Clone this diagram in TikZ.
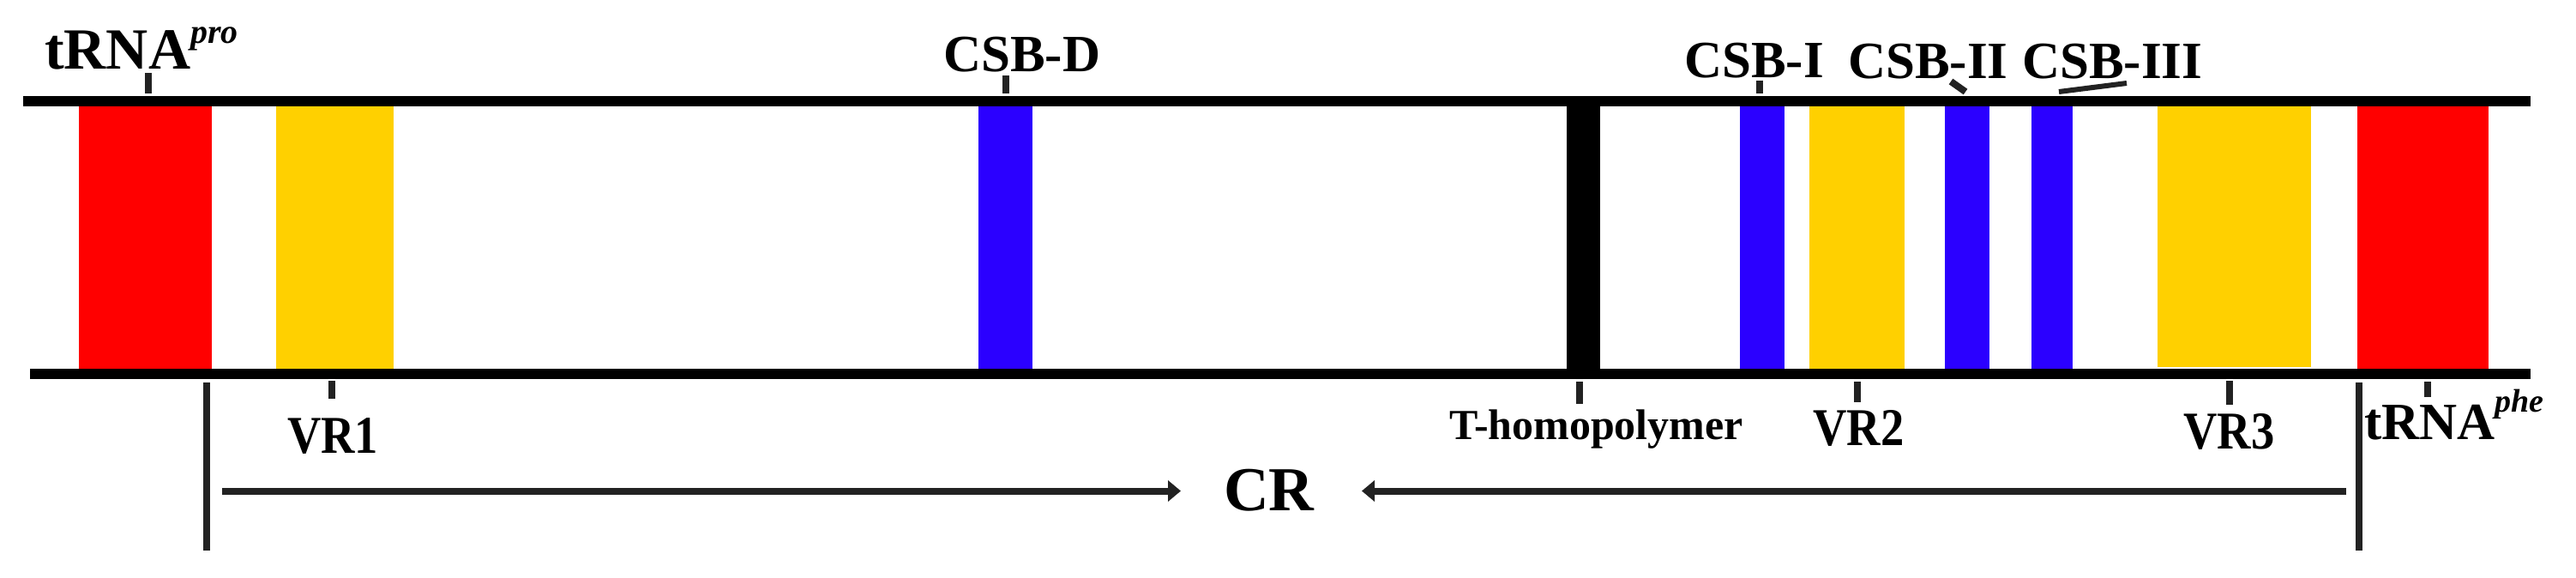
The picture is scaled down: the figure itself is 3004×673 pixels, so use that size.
\documentclass[tikz,border=0pt]{standalone}
\usepackage{fontspec}
\setmainfont{Liberation Serif}
\usetikzlibrary{arrows.meta}
\definecolor{cred}{RGB}{255,0,0}
\definecolor{cyel}{RGB}{255,208,0}
\definecolor{cblue}{RGB}{43,0,255}
\definecolor{cgray}{RGB}{34,34,34}
\newcommand{\labfont}[1]{\bfseries\fontsize{#1}{#1}\selectfont}
\begin{document}
\begin{tikzpicture}[x=1pt,y=-1pt,
  lab/.style={inner sep=0pt, anchor=base west, font=\labfont{61}},
  tickline/.style={line width=8pt, draw=cgray},
  strand/.style={line width=12pt, draw=black},
  bar/.style={line width=8pt, draw=cgray},
  arr/.style={line width=8pt, draw=cgray, -{Triangle[length=15pt,width=24pt]}},
  redbox/.style={fill=cred},
  yelbox/.style={fill=cyel},
  bluebox/.style={fill=cblue},
  blkbox/.style={fill=black}]
\useasboundingbox[fill=white] (0,0) rectangle (3004,673);

% regions
\fill[redbox]  (92,124) rectangle (247,430);
\fill[yelbox]  (321.5,124) rectangle (459,430);
\fill[bluebox] (1140.5,124) rectangle (1204,430);
\fill[blkbox]  (1827,124) rectangle (1866,430);
\fill[bluebox] (2029,124) rectangle (2081,432);
\fill[yelbox]  (2110,124) rectangle (2221,430);
\fill[bluebox] (2268,124) rectangle (2320,430);
\fill[bluebox] (2369,124) rectangle (2417,430);
\fill[yelbox]  (2516,124) rectangle (2695,428);
\fill[redbox]  (2749,124) rectangle (2902,430);

% strands
\coordinate (tl) at (26.7,118); \coordinate (tr) at (2951,118);
\coordinate (bl) at (35,436);   \coordinate (br) at (2951,436);
\draw[strand] (tl) -- (tr);
\draw[strand] (bl) -- (br);

% top labels
\node[lab, font=\labfont{68}] (trnapro) at (52,80.5) {tRNA\raisebox{30pt}{\fontsize{40}{40}\selectfont\itshape pro}};
\node[lab] (csbd) at (1100,83.7) {CSB-D};
\node[lab] (csbi) at (1964,90) {CSB-I};
\node[lab] (csbii) at (2155,91.7) {CSB-II};
\node[lab] (csbiii) at (2358,91.7) {CSB-III};

% bottom labels
\node[lab, font=\labfont{62}] (vr1) at (335,528) {\scalebox{0.88}[1]{VR1}};
\node[lab, font=\labfont{50}] (thomo) at (1690,512) {T-homopolymer};
\node[lab, font=\labfont{62}] (vr2) at (2114,519) {\scalebox{0.88}[1]{VR2}};
\node[lab, font=\labfont{62}] (vr3) at (2546,523) {\scalebox{0.88}[1]{VR3}};
\node[lab] (trnaphe) at (2757,512) {tRNA\raisebox{32pt}{\fontsize{38}{38}\selectfont\itshape phe}};
\node[lab, font=\labfont{73}] (cr) at (1427,595) {CR};

% ticks
\coordinate (t1a) at (173,85);    \coordinate (t1b) at (173,109);
\coordinate (t2a) at (1173,88);   \coordinate (t2b) at (1173,109);
\coordinate (t3a) at (2052,93.5); \coordinate (t3b) at (2052,109);
\coordinate (t4a) at (2275,95);   \coordinate (t4b) at (2292,107);
\coordinate (t5a) at (2401,107);  \coordinate (t5b) at (2480,97);
\draw[tickline] (t1a) -- (t1b);
\draw[tickline] (t2a) -- (t2b);
\draw[tickline] (t3a) -- (t3b);
\draw[tickline] (t4a) -- (t4b);
\draw[tickline, line width=6pt] (t5a) -- (t5b);

\coordinate (b1a) at (387,444);  \coordinate (b1b) at (387,465);
\coordinate (b2a) at (1842,445); \coordinate (b2b) at (1842,471);
\coordinate (b3a) at (2165.5,445); \coordinate (b3b) at (2165.5,469);
\coordinate (b4a) at (2600,444); \coordinate (b4b) at (2600,472);
\coordinate (b5a) at (2831,445); \coordinate (b5b) at (2831,463);
\draw[tickline] (b1a) -- (b1b);
\draw[tickline] (b2a) -- (b2b);
\draw[tickline] (b3a) -- (b3b);
\draw[tickline] (b4a) -- (b4b);
\draw[tickline] (b5a) -- (b5b);

% CR extent
\coordinate (lbt) at (241,446);  \coordinate (lbb) at (241,642);
\coordinate (rbt) at (2751,446); \coordinate (rbb) at (2751,642);
\draw[bar] (lbt) -- (lbb);
\draw[bar] (rbt) -- (rbb);
\coordinate (a1s) at (259,572.5);  \coordinate (a1e) at (1377,572.5);
\coordinate (a2s) at (2736,572.5); \coordinate (a2e) at (1588,572.5);
\draw[arr] (a1s) -- (a1e);
\draw[arr] (a2s) -- (a2e);
\end{tikzpicture}
\end{document}
